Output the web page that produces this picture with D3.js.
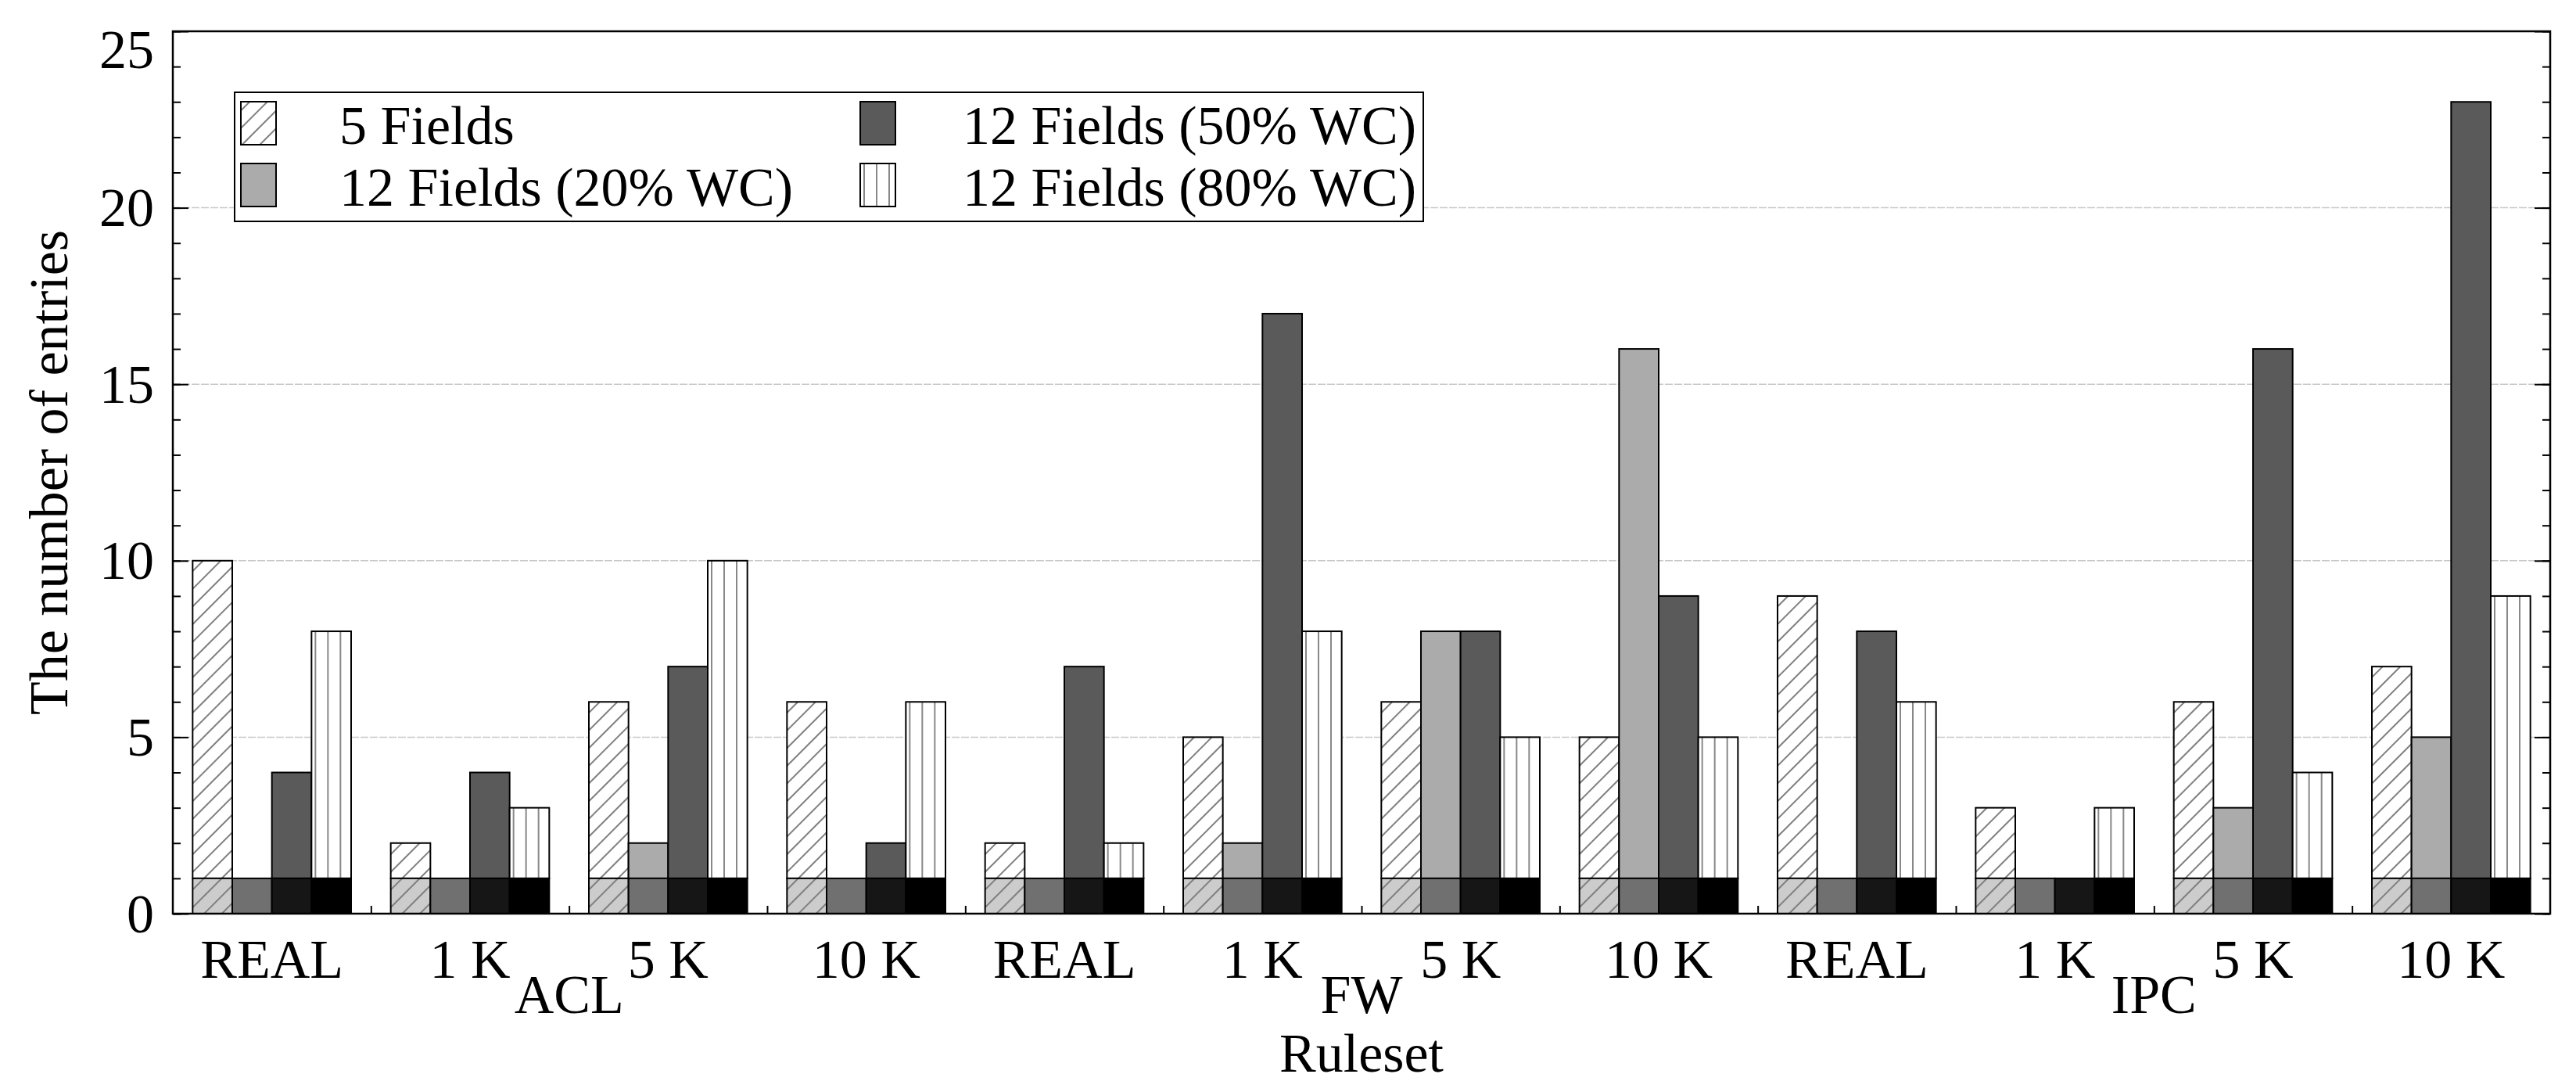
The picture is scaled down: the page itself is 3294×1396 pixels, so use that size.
<!DOCTYPE html>
<html>
<head>
<meta charset="utf-8">
<script src="https://cdn.jsdelivr.net/npm/d3@7"></script>
<style>
    body { margin: 0; background: #fff; }
    text { font-family: "Liberation Serif", "Times New Roman", serif; fill: #000; }
</style>
</head>
<body>
<div id="chart"></div>
<script>
// --------------------------------------------------
// Entries per ruleset, grouped bars with a base part of 1

var groups = ["ACL", "FW", "IPC"];
var sizes = ["REAL", "1 K", "5 K", "10 K"];
var seriesNames = ["5 Fields", "12 Fields (20% WC)", "12 Fields (50% WC)", "12 Fields (80% WC)"];

// totals, in order ACL(REAL,1K,5K,10K), FW(...), IPC(...)
var fields5 = [10, 2, 6, 6, 2, 5, 6, 5, 9, 3, 6, 7];
var wc20 = [1, 1, 2, 1, 1, 2, 8, 16, 1, 1, 3, 5];
var wc50 = [4, 4, 7, 2, 7, 17, 8, 9, 8, 1, 16, 23];
var wc80 = [8, 3, 10, 6, 2, 8, 5, 5, 6, 3, 4, 9];
var baseValues = [1, 1, 1, 1];

var yTicks = [0, 5, 10, 15, 20, 25];

var seriesValues = [fields5, wc20, wc50, wc80];
var topFill = ["url(#hatchWhite)", "#ababab", "#5a5a5a", "url(#vlines)"];
var baseFill = ["url(#hatchGray)", "#707070", "#161616", "#000000"];

var margin = { left: 221, right: 33, top: 40, bottom: 228 };
var W = 3294, H = 1396;
var width = W - margin.left - margin.right;
var height = H - margin.top - margin.bottom;

var svg = d3.select("#chart")
    .append("svg")
    .attr("width", W)
    .attr("height", H);

svg.append("rect").attr("width", W).attr("height", H).attr("fill", "#fff");

// patterns
var defs = svg.append("defs");
function hatch(id, bg) {
    var p = defs.append("pattern")
        .attr("id", id)
        .attr("patternUnits", "userSpaceOnUse")
        .attr("width", 16).attr("height", 16)
        .attr("patternTransform", "rotate(45)");
    p.append("rect").attr("width", 16).attr("height", 16).attr("fill", bg);
    p.append("line").attr("x1", 8).attr("x2", 8).attr("y1", 0).attr("y2", 16)
        .attr("stroke", "#7f7f7f").attr("stroke-width", 2);
}
hatch("hatchWhite", "#fff");
hatch("hatchGray", "#cccccc");
var vp = defs.append("pattern")
    .attr("id", "vlines")
    .attr("patternUnits", "userSpaceOnUse")
    .attr("width", 16).attr("height", 16);
vp.append("rect").attr("width", 16).attr("height", 16).attr("fill", "#fff");
vp.append("line").attr("x1", 5).attr("x2", 5).attr("y1", 0).attr("y2", 16)
    .attr("stroke", "#888").attr("stroke-width", 2);

var g = svg.append("g")
    .attr("transform", "translate(" + margin.left + ", " + margin.top + ")");

// categories: one per group x size
var cats = [];
groups.forEach(function(gr) {
    sizes.forEach(function(s) { cats.push(gr + "|" + s); });
});

var x = d3.scaleBand().domain(cats).range([0, width]).padding(0);
var xs = d3.scaleBand().domain(d3.range(4))
    .range([x.bandwidth() * 0.1, x.bandwidth() * 0.9]).padding(0);
var xPos = d3.scaleLinear().domain([0, cats.length]).range([0, width]);
var y = d3.scaleLinear().domain([0, 25]).range([height, 0]);

// gridlines
g.selectAll(".grid")
    .data([5, 10, 15, 20])
    .enter()
    .append("line")
    .attr("class", "grid")
    .attr("x1", 0).attr("x2", width)
    .attr("y1", function(d) { return y(d); })
    .attr("y2", function(d) { return y(d); })
    .attr("stroke", "#c8c8c8")
    .attr("stroke-width", 1.5)
    .attr("stroke-dasharray", "10,2");

// bars
var rows = [];
cats.forEach(function(c, i) {
    seriesValues.forEach(function(vals, s) {
        rows.push({ cat: c, s: s, base: baseValues[s], total: vals[i] });
    });
});

var bar = g.selectAll(".bar")
    .data(rows)
    .enter()
    .append("g")
    .attr("class", "bar")
    .attr("transform", function(d) { return "translate(" + (x(d.cat) + xs(d.s)) + ",0)"; });

bar.filter(function(d) { return d.total > d.base; })
    .append("rect")
    .attr("x", 0)
    .attr("width", xs.bandwidth())
    .attr("y", function(d) { return y(d.total); })
    .attr("height", function(d) { return y(d.base) - y(d.total); })
    .attr("fill", function(d) { return topFill[d.s]; })
    .attr("stroke", "#000")
    .attr("stroke-width", 2);

bar.append("rect")
    .attr("x", 0)
    .attr("width", xs.bandwidth())
    .attr("y", function(d) { return y(d.base); })
    .attr("height", function(d) { return y(0) - y(d.base); })
    .attr("fill", function(d) { return baseFill[d.s]; })
    .attr("stroke", "#000")
    .attr("stroke-width", 2);

// y axis: minor and major ticks, left and right
var minorLeft = d3.axisLeft(y).tickValues(d3.range(0, 26)).tickSize(-10).tickFormat("");
var majorLeft = d3.axisLeft(y).tickValues(yTicks).tickSize(-20).tickPadding(24);
var minorRight = d3.axisRight(y).tickValues(d3.range(0, 26)).tickSize(-10).tickFormat("");
var majorRight = d3.axisRight(y).tickValues(yTicks).tickSize(-20).tickFormat("");

g.append("g").attr("class", "y-axis").call(minorLeft);
var yl = g.append("g").attr("class", "y-axis").call(majorLeft);
g.append("g").attr("class", "y-axis").attr("transform", "translate(" + width + ",0)").call(minorRight);
g.append("g").attr("class", "y-axis").attr("transform", "translate(" + width + ",0)").call(majorRight);

yl.selectAll("text")
    .attr("font-size", "70px")
    .attr("dy", function(d) { return d === 25 ? "0.67em" : "0.33em"; });

// x axis: labels at centres, ticks at boundaries
var xAxisCall = d3.axisBottom(x).tickSize(0).tickFormat(function(d) { return d.split("|")[1]; });
var xl = g.append("g")
    .attr("class", "x-axis")
    .attr("transform", "translate(0, " + height + ")")
    .call(xAxisCall);
xl.selectAll("text")
    .attr("font-size", "70px")
    .attr("y", 82)
    .attr("dy", 0);

var bTicks = d3.axisBottom(xPos).tickValues(d3.range(1, cats.length)).tickSize(-10).tickFormat("");
g.append("g")
    .attr("class", "x-axis")
    .attr("transform", "translate(0, " + height + ")")
    .call(bTicks);

g.selectAll(".domain").remove();
g.selectAll(".tick line").attr("stroke", "#000").attr("stroke-width", 2);

// frame
g.append("rect")
    .attr("width", width)
    .attr("height", height)
    .attr("fill", "none")
    .attr("stroke", "#000")
    .attr("stroke-width", 2.5);

// group labels
g.selectAll(".group-label")
    .data(groups)
    .enter()
    .append("text")
    .attr("class", "group-label")
    .attr("x", function(d, i) { return xPos(i * 4 + 2); })
    .attr("y", height + 127)
    .attr("font-size", "70px")
    .attr("text-anchor", "middle")
    .text(function(d) { return d; });

// x label
g.append("text")
    .attr("class", "x axis-label")
    .attr("x", width / 2)
    .attr("y", height + 202)
    .attr("font-size", "70px")
    .attr("text-anchor", "middle")
    .text("Ruleset");

// y label
g.append("text")
    .attr("class", "y axis-label")
    .attr("x", -(height / 2))
    .attr("y", -135)
    .attr("font-size", "70px")
    .attr("text-anchor", "middle")
    .attr("transform", "rotate(-90)")
    .text("The number of entries");

// legend
var legend = svg.append("g").attr("class", "legend");
legend.append("rect")
    .attr("x", 300).attr("y", 118)
    .attr("width", 1520).attr("height", 165)
    .attr("fill", "#fff")
    .attr("stroke", "#000")
    .attr("stroke-width", 2);

var legFill = ["url(#hatchWhite)", "#ababab", "#5a5a5a", "url(#vlines)"];
var legItem = legend.selectAll(".item")
    .data(seriesNames)
    .enter()
    .append("g")
    .attr("class", "item")
    .attr("transform", function(d, i) {
        var col = i < 2 ? 0 : 1;
        var row = i % 2;
        return "translate(" + (col === 0 ? 308 : 1100) + "," + (130 + row * 79) + ")";
    });

legItem.append("rect")
    .attr("width", 45).attr("height", 55)
    .attr("fill", function(d, i) { return legFill[i]; })
    .attr("stroke", "#000")
    .attr("stroke-width", 2);

legItem.append("text")
    .attr("x", function(d, i) { return i < 2 ? 126 : 131; })
    .attr("y", 54)
    .attr("font-size", "70px")
    .text(function(d) { return d; });
</script>
</body>
</html>
